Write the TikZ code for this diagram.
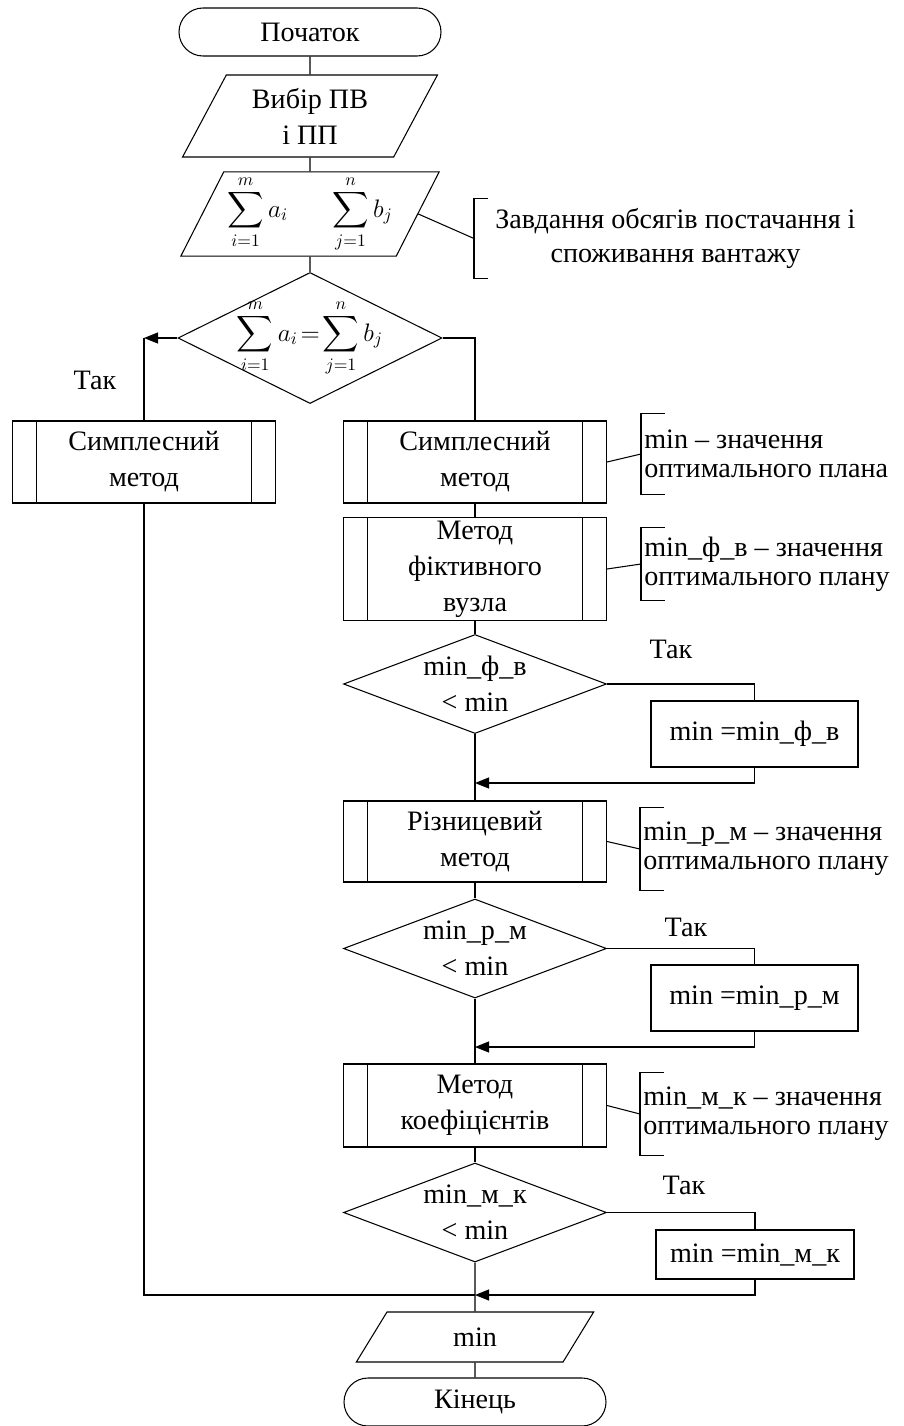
\documentclass[tikz,border=0pt]{standalone}
\usepackage{fontspec}
\setmainfont{Liberation Serif}
\usepackage{amsmath}
\usepackage{tikz}
\usetikzlibrary{arrows.meta,positioning,shapes.geometric}
\tikzset{
  basenode/.style={draw,semithick,align=center,inner sep=2pt,font=\fontsize{16}{20.5}\selectfont},
  termnode/.style={basenode,rectangle,rounded corners=0.48cm,minimum width=5.24cm,minimum height=0.96cm},
  ionode/.style={basenode,trapezium,trapezium left angle=63,trapezium right angle=117,trapezium stretches=true,minimum width=5.1cm,minimum height=1.64cm},
  procnode/.style={basenode,rectangle,minimum width=5.26cm,minimum height=1.64cm,
    path picture={
      \draw[semithick] ([xshift=4.8mm]path picture bounding box.north west) -- ([xshift=4.8mm]path picture bounding box.south west);
      \draw[semithick] ([xshift=-4.8mm]path picture bounding box.north east) -- ([xshift=-4.8mm]path picture bounding box.south east);
    }},
  condnode/.style={basenode,diamond,inner sep=-1.3cm,minimum width=5.26cm,minimum height=1.98cm},
  setnode/.style={basenode,rectangle,minimum width=4.14cm,minimum height=1.32cm},
  notenode/.style={anchor=west,align=left,inner xsep=0.06cm,inner ysep=0pt,font=\fontsize{16}{16.5}\selectfont},
  yeslabel/.style={font=\fontsize{16}{18}\selectfont},
  flowline/.style={semithick},
  arrline/.style={flowline,-{Triangle[length=2.8mm,width=2.2mm]}},
}

\begin{document}
\begin{tikzpicture}
  \useasboundingbox (0,0) rectangle (18.06,-28.52);
  % main column
  \node[termnode] (start) at (6.20,-0.64) {Початок};
  \node[ionode] (in1) at (6.20,-2.32) {Вибір ПВ\\і ПП};
  \node[ionode,font=\fontsize{14.5}{18}\selectfont] (in2) at (6.20,-4.28) {$\displaystyle\sum_{i=1}^{m}a_i\hspace{0.8cm}\sum_{j=1}^{n}b_j$};
  \node[condnode,minimum width=5.28cm,minimum height=2.62cm,font=\fontsize{14.5}{18}\selectfont] (d1) at (6.20,-6.76)
    {$\displaystyle\sum_{i=1}^{m}a_i\!=\!\sum_{j=1}^{n}b_j$};
  \node[procnode] (simL) at (2.88,-9.24) {Симплесний\\метод};
  \node[procnode] (sim1) at (9.50,-9.24) {Симплесний\\метод};
  \node[procnode,minimum height=2.0cm] (fict) at (9.50,-11.38) {Метод\\фіктивного\\вузла};
  \node[condnode] (d2) at (9.50,-13.68) {min\_ф\_в\\< min};
  \node[setnode] (set1) at (15.09,-14.68) {min =min\_ф\_в};
  \coordinate (m1) at (9.50,-15.66);
  \node[procnode,minimum height=1.62cm] (diff) at (9.50,-16.83) {Різницевий\\метод};
  \node[condnode] (d3) at (9.50,-18.97) {min\_р\_м\\< min};
  \node[setnode] (set2) at (15.09,-19.96) {min =min\_р\_м};
  \coordinate (m2) at (9.50,-20.94);
  \node[procnode,minimum height=1.66cm] (coef) at (9.50,-22.11) {Метод\\коефіцієнтів};
  \node[condnode] (d4) at (9.50,-24.25) {min\_м\_к\\< min};
  \node[setnode,minimum width=3.96cm,minimum height=0.98cm] (set3) at (15.10,-25.09) {min =min\_м\_к};
  \coordinate (m3) at (9.50,-25.90);
  \node[ionode,trapezium left angle=71,trapezium right angle=109,minimum width=4.76cm,minimum height=1.0cm] (out) at (9.50,-26.74) {min};
  \node[termnode] (stop) at (9.50,-28.04) {Кінець};

  % notes
  \node[notenode,align=center,inner xsep=0.42cm,minimum height=1.58cm,font=\fontsize{16}{19.3}\selectfont] (n0) at (9.48,-4.77)
    {Завдання обсягів постачання і\\споживання вантажу};
  \node[notenode,minimum height=1.6cm] (n1) at (12.82,-9.08) {min – значення\\оптимального плана};
  \node[notenode,minimum height=1.44cm] (n2) at (12.82,-11.28) {min\_ф\_в – значення\\оптимального плану};
  \node[notenode,minimum height=1.64cm] (n3) at (12.80,-16.98) {min\_р\_м – значення\\оптимального плану};
  \node[notenode,minimum height=1.64cm] (n4) at (12.80,-22.28) {min\_м\_к – значення\\оптимального плану};
  \draw[flowline] ([xshift=2.8mm]n0.north west) -- (n0.north west) -- (n0.south west) -- ([xshift=2.8mm]n0.south west);
  \foreach \n in {n1,n2,n3,n4}
    \draw[flowline] ([xshift=4.8mm]\n.north west) -- (\n.north west) -- (\n.south west) -- ([xshift=4.8mm]\n.south west);

  \node[yeslabel] (t1) at (1.90,-7.60) {Так};
  \node[yeslabel] (t2) at (13.42,-12.98) {Так};
  \node[yeslabel] (t3) at (13.72,-18.54) {Так};
  \node[yeslabel] (t4) at (13.68,-23.70) {Так};

  % connectors
  \draw[flowline] (start) -- (in1);
  \draw[flowline] (in1) -- (in2);
  \draw[flowline] (in2) -- (d1);
  \coordinate (cL) at (d1.west -| simL.north);
  \draw[arrline] (d1.west) -- (cL);
  \draw[flowline] (cL) -- (simL.north);
  \draw[flowline] (d1.east) -| (sim1.north);
  \draw[flowline] (sim1) -- (fict);
  \draw[flowline] (fict) -- (d2);
  \draw[flowline] (d2.east) -| (set1.north);
  \draw[arrline] (set1.south) |- (m1);
  \draw[flowline] (d2.south) -- (diff.north);
  \draw[flowline] (diff) -- (d3);
  \draw[flowline] (d3.east) -| (set2.north);
  \draw[arrline] (set2.south) |- (m2);
  \draw[flowline] (d3.south) -- (coef.north);
  \draw[flowline] (coef) -- (d4);
  \draw[flowline] (d4.east) -| (set3.north);
  \draw[arrline] (set3.south) |- (m3);
  \draw[flowline] (simL.south) |- (m3);
  \draw[flowline] (d4.south) -- (out.north);
  \draw[flowline] (out) -- (stop);

  \draw[flowline] (in2.east) -- (n0.west);
  \draw[flowline] (sim1.east) -- (n1.west);
  \draw[flowline] (fict.east) -- (n2.west);
  \draw[flowline] (diff.east) -- (n3.west);
  \draw[flowline] (coef.east) -- (n4.west);
\end{tikzpicture}
\end{document}
